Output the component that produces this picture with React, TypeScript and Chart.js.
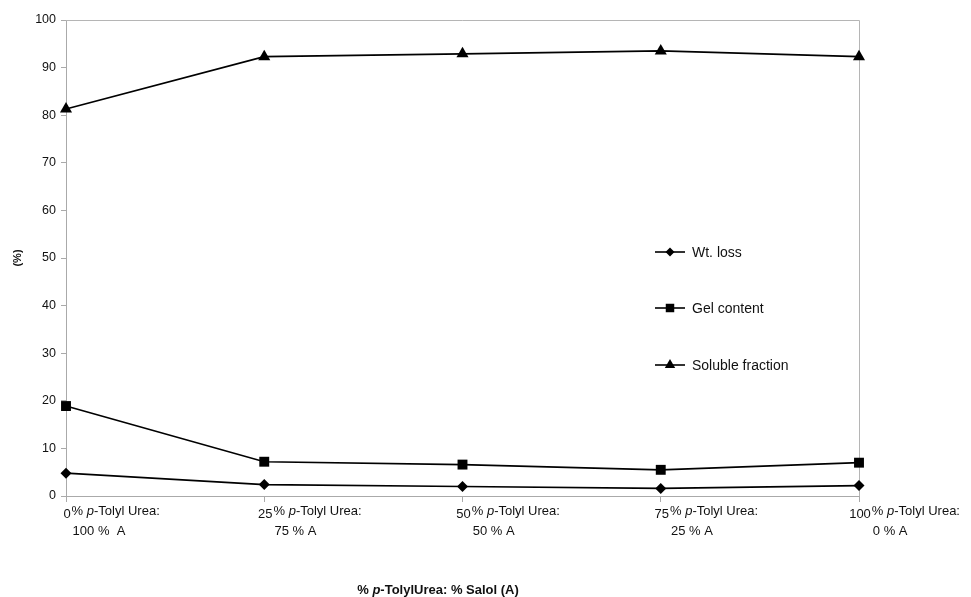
import React, { useEffect, useRef } from "react";
import { Chart, registerables } from "chart.js";

Chart.register(...registerables);

const categories = ["0", "25", "50", "75", "100"];
const secondLines = ["100 %  A", "75 % A", "50 % A", "25 % A", "0 % A"];
const seriesNames = ["Wt. loss", "Gel content", "Soluble fraction"];
const wtLoss = [4.8, 2.4, 2.0, 1.6, 2.2];
const gelContent = [18.9, 7.2, 6.6, 5.5, 7.0];
const solubleFraction = [81.3, 92.3, 92.9, 93.5, 92.3];
const yTicks = { min: 0, max: 100, step: 10 };
const xTitle = ["% ", "p", "-TolylUrea: % Salol (A)"];
const yTitle = "(%)";

const FONT = "'Liberation Sans', Arial, sans-serif";
const TEXT = "#111";

function drawMarker(ctx: CanvasRenderingContext2D, style: string, x: number, y: number, r: number) {
  ctx.beginPath();
  if (style === "rectRot") {
    ctx.moveTo(x, y - r);
    ctx.lineTo(x + r, y);
    ctx.lineTo(x, y + r);
    ctx.lineTo(x - r, y);
  } else if (style === "rect") {
    const s = r * Math.SQRT1_2;
    ctx.rect(x - s, y - s, 2 * s, 2 * s);
  } else {
    ctx.moveTo(x, y - r);
    ctx.lineTo(x + r * 0.866, y + r * 0.5);
    ctx.lineTo(x - r * 0.866, y + r * 0.5);
  }
  ctx.closePath();
  ctx.fillStyle = "#000";
  ctx.fill();
}

const overlayPlugin = {
  id: "overlay",
  beforeDatasetsDraw(chart: any) {
    const ctx: CanvasRenderingContext2D = chart.ctx;
    const area = chart.chartArea;
    ctx.save();
    ctx.strokeStyle = "#b5b5b5";
    ctx.lineWidth = 1;
    ctx.beginPath();
    ctx.moveTo(area.left, Math.round(area.top) + 0.5);
    ctx.lineTo(Math.round(area.right) + 0.5, Math.round(area.top) + 0.5);
    ctx.lineTo(Math.round(area.right) + 0.5, area.bottom);
    ctx.stroke();
    ctx.restore();
  },
  afterDraw(chart: any) {
    const ctx: CanvasRenderingContext2D = chart.ctx;
    const area = chart.chartArea;
    const xs = chart.scales.x;
    ctx.save();

    // x tick labels
    ctx.fillStyle = TEXT;
    ctx.textBaseline = "alphabetic";
    categories.forEach((c, i) => {
      const x = xs.getPixelForValue(i);
      ctx.font = `13px ${FONT}`;
      const w = ctx.measureText(c).width;
      const numLeft = x + 1 - w / 2;
      ctx.textAlign = "left";
      ctx.fillText(c, numLeft, area.bottom + 22);
      let tx = numLeft + w + 1;
      const y1 = area.bottom + 19;
      ctx.fillText("% ", tx, y1);
      tx += ctx.measureText("% ").width;
      ctx.font = `italic 13px ${FONT}`;
      ctx.fillText("p", tx, y1);
      tx += ctx.measureText("p").width;
      ctx.font = `13px ${FONT}`;
      ctx.fillText("-Tolyl Urea:", tx, y1);
      ctx.fillText(secondLines[i], numLeft + w + 2, area.bottom + 39);
    });

    // legend
    const legendY = [252, 308, 365];
    const styles = ["rectRot", "rect", "triangle"];
    const radii = [4.5, 6, 6];
    seriesNames.forEach((name, i) => {
      const y = legendY[i];
      ctx.strokeStyle = "#000";
      ctx.lineWidth = 1.6;
      ctx.beginPath();
      ctx.moveTo(655, y);
      ctx.lineTo(685, y);
      ctx.stroke();
      drawMarker(ctx, styles[i], 670, y, radii[i]);
      ctx.fillStyle = TEXT;
      ctx.font = `14px ${FONT}`;
      ctx.textAlign = "left";
      ctx.textBaseline = "middle";
      ctx.fillText(name, 692, y + 1);
    });

    // y title
    ctx.save();
    ctx.translate(18, 258);
    ctx.rotate(-Math.PI / 2);
    ctx.font = `bold 11px ${FONT}`;
    ctx.textAlign = "center";
    ctx.textBaseline = "middle";
    ctx.fillStyle = TEXT;
    ctx.fillText(yTitle, 0, 0);
    ctx.restore();

    // x title
    ctx.textBaseline = "alphabetic";
    ctx.textAlign = "left";
    ctx.fillStyle = TEXT;
    const parts = xTitle;
    const fonts = [`bold 13px ${FONT}`, `bold italic 13px ${FONT}`, `bold 13px ${FONT}`];
    let total = 0;
    parts.forEach((p, i) => {
      ctx.font = fonts[i];
      total += ctx.measureText(p).width;
    });
    let tx = 438 - total / 2;
    parts.forEach((p, i) => {
      ctx.font = fonts[i];
      ctx.fillText(p, tx, 594);
      tx += ctx.measureText(p).width;
    });
    ctx.restore();
  },
};

export default function App() {
  const ref = useRef<HTMLCanvasElement | null>(null);
  useEffect(() => {
    if (!ref.current) return;
    const mk = (data: number[], style: string, r: number) => ({
      data,
      borderColor: "#000",
      backgroundColor: "#000",
      borderWidth: 1.7,
      pointStyle: style,
      pointRadius: r,
      pointBorderWidth: 0,
      pointBackgroundColor: "#000",
      tension: 0,
      clip: false,
    });
    const chart = new Chart(ref.current, {
      type: "line",
      data: {
        labels: categories,
        datasets: [
          { label: seriesNames[0], ...mk(wtLoss, "rectRot", 5.5) },
          { label: seriesNames[1], ...mk(gelContent, "rect", 7) },
          { label: seriesNames[2], ...mk(solubleFraction, "triangle", 7) },
        ] as any,
      },
      options: {
        animation: false,
        responsive: false,
        devicePixelRatio: 1,
        layout: { padding: { top: 20, right: 112, left: 0, bottom: 0 } },
        plugins: { legend: { display: false }, tooltip: { enabled: false } },
        scales: {
          x: {
            type: "category",
            offset: false,
            grid: { drawOnChartArea: false, drawTicks: true, tickLength: 6, color: "#aaa" },
            border: { color: "#aaa" },
            ticks: { display: false },
            afterFit: (s: any) => {
              s.height = 101;
            },
          },
          y: {
            min: yTicks.min,
            max: yTicks.max,
            grid: { drawOnChartArea: false, drawTicks: true, tickLength: 5, color: "#aaa" },
            border: { color: "#aaa" },
            ticks: {
              stepSize: yTicks.step,
              color: TEXT,
              font: { family: FONT, size: 12.5 },
              padding: 5,
            },
            afterFit: (s: any) => {
              s.width = 66;
            },
          },
        },
      } as any,
      plugins: [overlayPlugin],
    });
    return () => chart.destroy();
  }, []);
  return (
    <div style={{ position: "absolute", left: 0, top: 0, width: 971, height: 597, background: "#fff" }}>
      <canvas ref={ref} width={971} height={597} />
    </div>
  );
}
